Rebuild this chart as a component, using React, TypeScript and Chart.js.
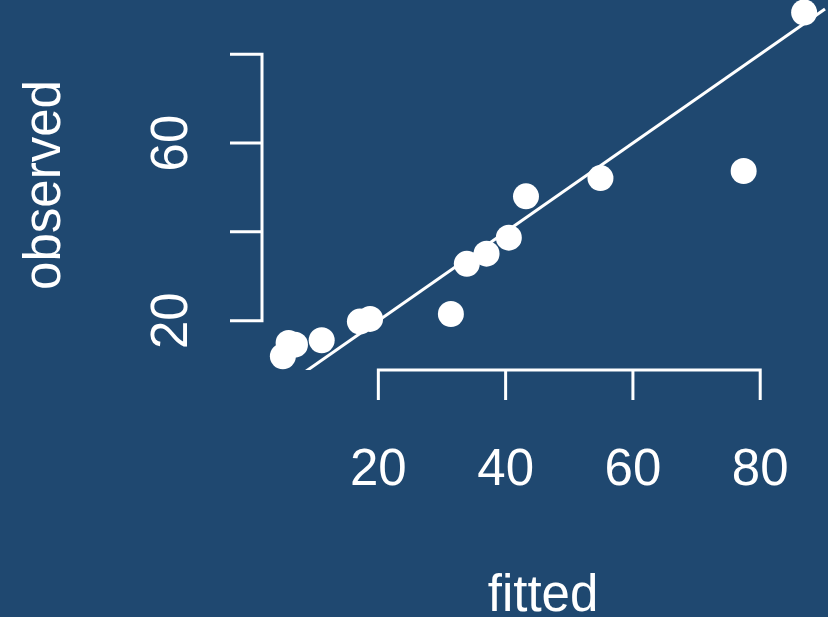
import React, { useEffect, useRef } from "react";
import { Chart, registerables } from "chart.js";

Chart.register(...registerables);

// Data
const fittedValues = [5.0, 5.9, 6.9, 11.1, 17.1, 18.7, 31.4, 33.9, 37.0, 40.5, 43.2, 54.9, 77.4, 86.9];
const observedValues = [12.0, 15.0, 14.6, 15.6, 19.8, 20.4, 21.5, 32.8, 35.1, 38.7, 48.0, 52.1, 53.7, 89.4];
const xTicks = [20, 40, 60, 80];
const xTickLabels = ["20", "40", "60", "80"];
const yTicks = [20, 40, 60, 80];
const yTickLabels = ["20", "", "60", ""];
const ablineIntercept = 0;
const ablineSlope = 1;
const xTitle = "fitted";
const yTitle = "observed";

const BG = "#1f4870";
const FG = "#ffffff";
const FONT = '51px "Liberation Sans", Arial, sans-serif';

const basePlotPlugin = {
  id: "basePlot",
  beforeDraw(chart: any) {
    const ctx = chart.ctx;
    ctx.save();
    ctx.fillStyle = BG;
    ctx.fillRect(0, 0, chart.width, chart.height);
    ctx.restore();
  },
  beforeDatasetsDraw(chart: any) {
    const { ctx, chartArea, scales } = chart;
    const xs = scales.x;
    const ys = scales.y;
    // abline y = a + b x, clipped to plot region
    const x0 = xs.min;
    const x1 = xs.max;
    ctx.save();
    ctx.beginPath();
    ctx.rect(chartArea.left, chartArea.top, chartArea.right - chartArea.left + 3, chartArea.bottom - chartArea.top);
    ctx.clip();
    ctx.strokeStyle = FG;
    ctx.lineWidth = 3;
    ctx.beginPath();
    ctx.moveTo(xs.getPixelForValue(x0), ys.getPixelForValue(ablineIntercept + ablineSlope * x0));
    ctx.lineTo(xs.getPixelForValue(x1), ys.getPixelForValue(ablineIntercept + ablineSlope * x1));
    ctx.stroke();
    ctx.restore();
  },
  afterDraw(chart: any) {
    const { ctx, chartArea, scales } = chart;
    const xs = scales.x;
    const ys = scales.y;
    ctx.save();
    ctx.strokeStyle = FG;
    ctx.fillStyle = FG;
    ctx.lineWidth = 3;
    ctx.lineCap = "butt";

    // x axis
    const yAxisPix = chartArea.bottom;
    ctx.beginPath();
    ctx.moveTo(xs.getPixelForValue(xTicks[0]), yAxisPix);
    ctx.lineTo(xs.getPixelForValue(xTicks[xTicks.length - 1]), yAxisPix);
    xTicks.forEach((t) => {
      const px = xs.getPixelForValue(t);
      ctx.moveTo(px, yAxisPix - 1.5);
      ctx.lineTo(px, yAxisPix + 30);
    });
    ctx.stroke();

    ctx.font = FONT;
    ctx.textAlign = "center";
    ctx.textBaseline = "alphabetic";
    xTicks.forEach((t, i) => {
      ctx.fillText(xTickLabels[i], xs.getPixelForValue(t), 485);
    });

    // y axis
    const xAxisPix = chartArea.left;
    ctx.beginPath();
    ctx.moveTo(xAxisPix, ys.getPixelForValue(yTicks[0]));
    ctx.lineTo(xAxisPix, ys.getPixelForValue(yTicks[yTicks.length - 1]));
    yTicks.forEach((t) => {
      const py = ys.getPixelForValue(t);
      ctx.moveTo(xAxisPix + 1.5, py);
      ctx.lineTo(xAxisPix - 32, py);
    });
    ctx.stroke();

    yTicks.forEach((t, i) => {
      if (!yTickLabels[i]) return;
      ctx.save();
      ctx.translate(187, ys.getPixelForValue(t));
      ctx.rotate(-Math.PI / 2);
      ctx.fillText(yTickLabels[i], 0, 0);
      ctx.restore();
    });

    // titles
    ctx.fillText(xTitle, 543, 611);
    ctx.save();
    ctx.translate(60, 185);
    ctx.rotate(-Math.PI / 2);
    ctx.fillText(yTitle, 0, 0);
    ctx.restore();

    ctx.restore();
  },
};

export default function App() {
  const canvasRef = useRef<HTMLCanvasElement | null>(null);

  useEffect(() => {
    if (!canvasRef.current) return;
    const chart = new Chart(canvasRef.current, {
      type: "scatter",
      data: {
        datasets: [
          {
            data: fittedValues.map((x, i) => ({ x, y: observedValues[i] })),
            pointRadius: 13,
            pointHoverRadius: 13,
            backgroundColor: FG,
            borderWidth: 0,
            clip: false as any,
          },
        ],
      },
      options: {
        responsive: false,
        animation: false,
        devicePixelRatio: 1,
        layout: { autoPadding: false, padding: { left: 262, right: 3, top: 0, bottom: 247 } },
        plugins: { legend: { display: false }, tooltip: { enabled: false } },
        events: [],
        scales: {
          x: { type: "linear", min: 1.72, max: 90.18, display: false },
          y: { type: "linear", min: 8.9, max: 92.2, display: false },
        },
      },
      plugins: [basePlotPlugin],
    });
    return () => chart.destroy();
  }, []);

  return (
    <div style={{ position: "absolute", left: 0, top: 0, width: 828, height: 617, background: BG }}>
      <canvas ref={canvasRef} width={828} height={617} style={{ display: "block", width: 828, height: 617 }} />
    </div>
  );
}
